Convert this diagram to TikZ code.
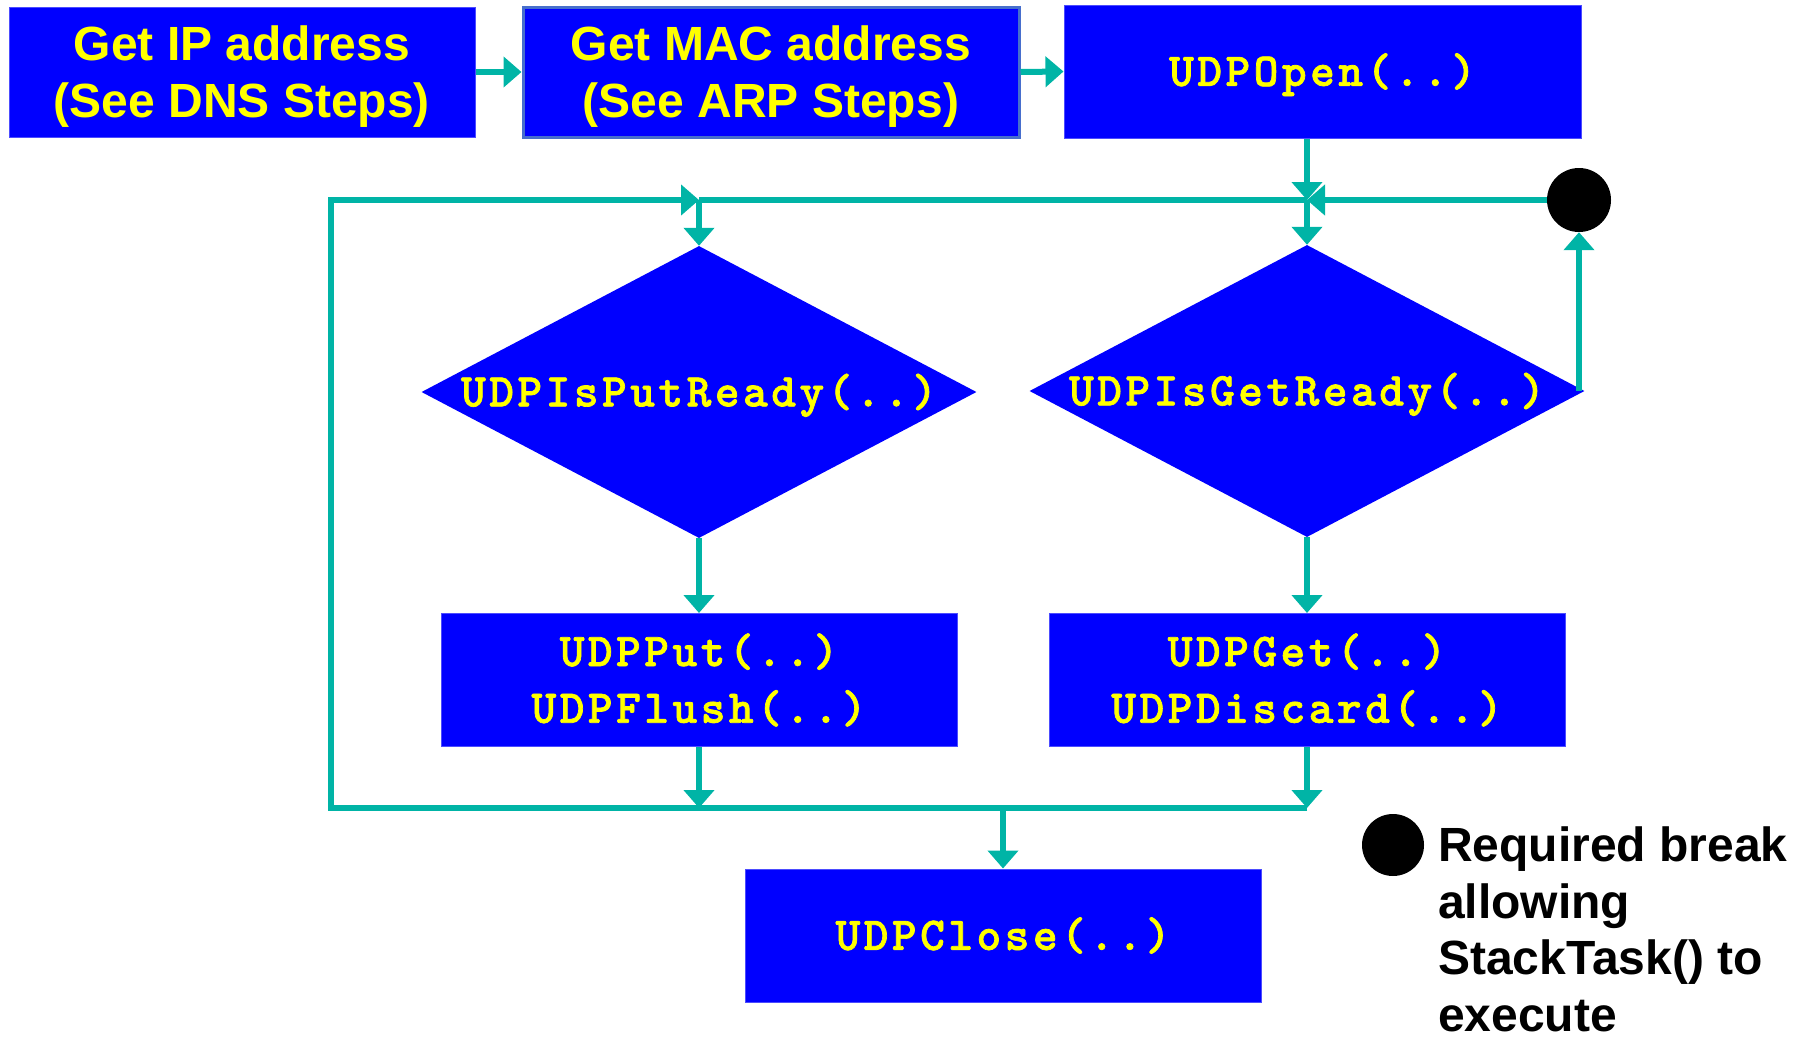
\documentclass[tikz,border=0pt]{standalone}
\usepackage{fontspec}
\setmainfont{Liberation Sans}
\newfontfamily\codefont{lmmonolt10-bold.otf}[LetterSpace=7.5, FakeBold=1.5]
\usetikzlibrary{arrows.meta,shapes.geometric}

\definecolor{boxblue}{RGB}{0,0,255}
\definecolor{labelyellow}{RGB}{255,255,0}
\definecolor{flowteal}{RGB}{0,180,166}
\definecolor{edgeblue}{RGB}{70,110,205}

\tikzset{
  procbox/.style={rectangle, fill=boxblue, draw=boxblue!70!white, line width=1pt,
    inner sep=0pt, text=labelyellow, align=center},
  decision/.style={diamond, fill=boxblue, inner sep=0pt, text=labelyellow,
    minimum width=555pt, minimum height=292pt},
  flow/.style={draw=flowteal, line width=6pt, -{Triangle[width=30pt,length=18pt]}},
  link/.style={draw=flowteal, line width=6pt},
  breakdot/.style={circle, fill=black, minimum size=64pt, inner sep=0pt},
  sanslabel/.style={font=\fontsize{48}{57}\selectfont\bfseries,
    text height=91.5pt, text depth=0pt},
  codelabel/.style={font=\fontsize{47}{56.7}\selectfont\codefont,
    text height=28.7pt, text depth=0pt},
  twolines/.style={text height=85.4pt},
}

\begin{document}
\begin{tikzpicture}[x=1pt, y=-1pt]
  \useasboundingbox (0,0) rectangle (1805,1039);

  % setup steps
  \node[procbox, sanslabel, minimum width=466pt, minimum height=130pt] (ip) at (242,72)
    {Get IP address\\(See DNS Steps)};
  \node[procbox, sanslabel, draw=edgeblue, line width=3pt, minimum width=496pt,
    minimum height=130pt] (mac) at (771,72) {Get MAC address\\(See ARP Steps)};
  \node[procbox, codelabel, minimum width=517pt, minimum height=133pt] (open) at (1322.5,71.5)
    {UDPOpen(..)};

  % decisions
  \node[decision, codelabel] (isput) at (699,392) {\makebox[0pt]{UDPIsPutReady(..)}};
  \node[decision, codelabel] (isget) at (1307,391) {\makebox[0pt]{UDPIsGetReady(..)}};

  % transfer boxes
  \node[procbox, codelabel, twolines, minimum width=516pt, minimum height=133pt] (put)
    at (699,680) {UDPPut(..)\\UDPFlush(..)};
  \node[procbox, codelabel, twolines, minimum width=516pt, minimum height=133pt] (get)
    at (1307,680) {UDPGet(..)\\UDPDiscard(..)};
  \node[procbox, codelabel, minimum width=516pt, minimum height=133pt] (close) at (1003,935.5)
    {UDPClose(..)};

  % break point
  \node[breakdot] (dot) at (1579,200) {};

  % key
  \node[breakdot, minimum size=62pt] (keydot) at (1393,845) {};
  \node[anchor=base west, align=left, inner sep=0pt, font=\fontsize{48}{56.5}\selectfont\bfseries]
    (keytext) at (1438,1031) {Required break\\allowing\\StackTask() to\\execute};

  % junctions
  \coordinate (jput) at (isput.north |- dot.center);
  \coordinate (jget) at (isget.north |- dot.center);
  \coordinate (merge) at (1003,808);
  \coordinate (loopcorner) at (331,808);

  % connectors
  \draw[flow] (ip.east) -- (mac.west);
  \draw[flow] (mac.east) -- (open.west);
  \draw[flow] (open.south -| jget) -- (jget);
  \draw[flow] (dot.west) -- (jget);
  \draw[link] (jput) -- (jget);
  \draw[flow] (jget) -- (isget.north);
  \draw[flow] (jput) -- (isput.north);
  \draw[flow] (isget.east -| dot) -- (dot.south);
  \draw[flow] (isput.south) -- (put.north);
  \draw[flow] (isget.south) -- (get.north);
  \draw[flow] (put.south) -- (put.south |- merge);
  \draw[flow] (get.south) -- (get.south |- merge);
  \draw[flow] (get.south |- merge) -- (loopcorner) |- (jput);
  \draw[flow] (merge) -- (close.north);
\end{tikzpicture}
\end{document}
